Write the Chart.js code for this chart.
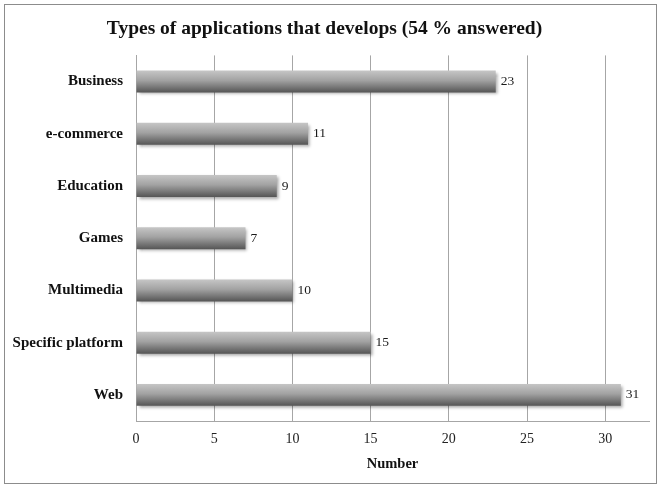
<!DOCTYPE html>
<html>
<head>
<meta charset="utf-8">
<script src="https://cdn.jsdelivr.net/npm/chart.js@4/dist/chart.umd.min.js"></script>
<style>
  html, body { margin: 0; padding: 0; background: #fff; }
  #wrap { position: relative; width: 660px; height: 487px; }
  #frame { position: absolute; left: 4px; top: 4px; width: 653px; height: 480px; border: 1px solid #8c8c8c; box-sizing: border-box; pointer-events: none; }
</style>
</head>
<body>
<div id="wrap">
  <canvas id="myChart" width="660" height="487"></canvas>
  <div id="frame"></div>
</div>
<script>
// answers per application type
const appTypes = ['Business', 'e-commerce', 'Education', 'Games', 'Multimedia', 'Specific platform', 'Web'];
const counts = [23, 11, 9, 7, 10, 15, 31];
const tickValues = [0, 5, 10, 15, 20, 25, 30];
const axisMax = 32.8;

const serif = '"Liberation Serif", "Times New Roman", serif';

// grey bar with a light top edge and a dark bottom edge
const barFill = (c) => {
    const chart = c.chart;
    const y = chart.scales.y;
    if (!y || !chart.chartArea) return '#909090';
    const mid = y.getPixelForValue(c.dataIndex);
    const half = 11;
    const g = chart.ctx.createLinearGradient(0, mid - half, 0, mid + half);
    g.addColorStop(0, '#c6c6c6');
    g.addColorStop(0.45, '#a2a2a2');
    g.addColorStop(1, '#555555');
    return g;
};

// soft shadow under the bars
const barShadow = {
    id: 'barShadow',
    beforeDatasetsDraw(chart) {
        const ctx = chart.ctx;
        ctx.save();
        ctx.shadowColor = 'rgba(0,0,0,0.35)';
        ctx.shadowBlur = 3;
        ctx.shadowOffsetX = 2;
        ctx.shadowOffsetY = 2;
    },
    afterDatasetsDraw(chart) {
        chart.ctx.restore();
    }
};

// number written after each bar
const valueLabels = {
    id: 'valueLabels',
    afterDatasetsDraw(chart) {
        const ctx = chart.ctx;
        const meta = chart.getDatasetMeta(0);
        ctx.save();
        ctx.font = '13.5px ' + serif;
        ctx.fillStyle = '#1a1a1a';
        ctx.textAlign = 'left';
        ctx.textBaseline = 'middle';
        meta.data.forEach((bar, i) => {
            ctx.fillText(String(counts[i]), bar.x + 5, bar.y);
        });
        ctx.restore();
    }
};

const ctx = document.getElementById('myChart');

new Chart(ctx, {
    type: 'bar',
    data: {
        labels: appTypes,
        datasets: [{
            data: counts,
            backgroundColor: barFill,
            borderWidth: 0,
            barPercentage: 0.42,
            categoryPercentage: 1
        }]
    },
    options: {
        indexAxis: 'y',
        responsive: false,
        animation: false,
        layout: { padding: { left: 0, right: 11, top: 0, bottom: 0 } },
        plugins: {
            legend: { display: false },
            tooltip: { enabled: false },
            title: {
                display: true,
                text: 'Types of applications that develops (54 % answered)',
                color: '#111',
                font: { family: serif, size: 19.5, weight: 'bold' },
                padding: { top: 17, bottom: 15 }
            }
        },
        scales: {
            x: {
                min: 0,
                max: axisMax,
                afterBuildTicks: (scale) => {
                    scale.ticks = tickValues.map(v => ({ value: v }));
                },
                afterFit: (scale) => { scale.height = 66; },
                ticks: {
                    color: '#222',
                    padding: 10,
                    font: { family: serif, size: 14 }
                },
                grid: { color: '#a6a6a6', drawTicks: false, lineWidth: 1 },
                border: { display: true, color: '#a6a6a6' },
                title: {
                    display: true,
                    text: 'Number',
                    color: '#111',
                    font: { family: serif, size: 14.5, weight: 'bold' },
                    padding: { top: 4, bottom: 14 }
                }
            },
            y: {
                afterFit: (scale) => { scale.width = 136; },
                ticks: {
                    color: '#111',
                    padding: 5,
                    font: { family: serif, size: 15, weight: 'bold' }
                },
                grid: { display: false },
                border: { display: true, color: '#a6a6a6' }
            }
        }
    },
    plugins: [barShadow, valueLabels]
});
</script>
</body>
</html>
